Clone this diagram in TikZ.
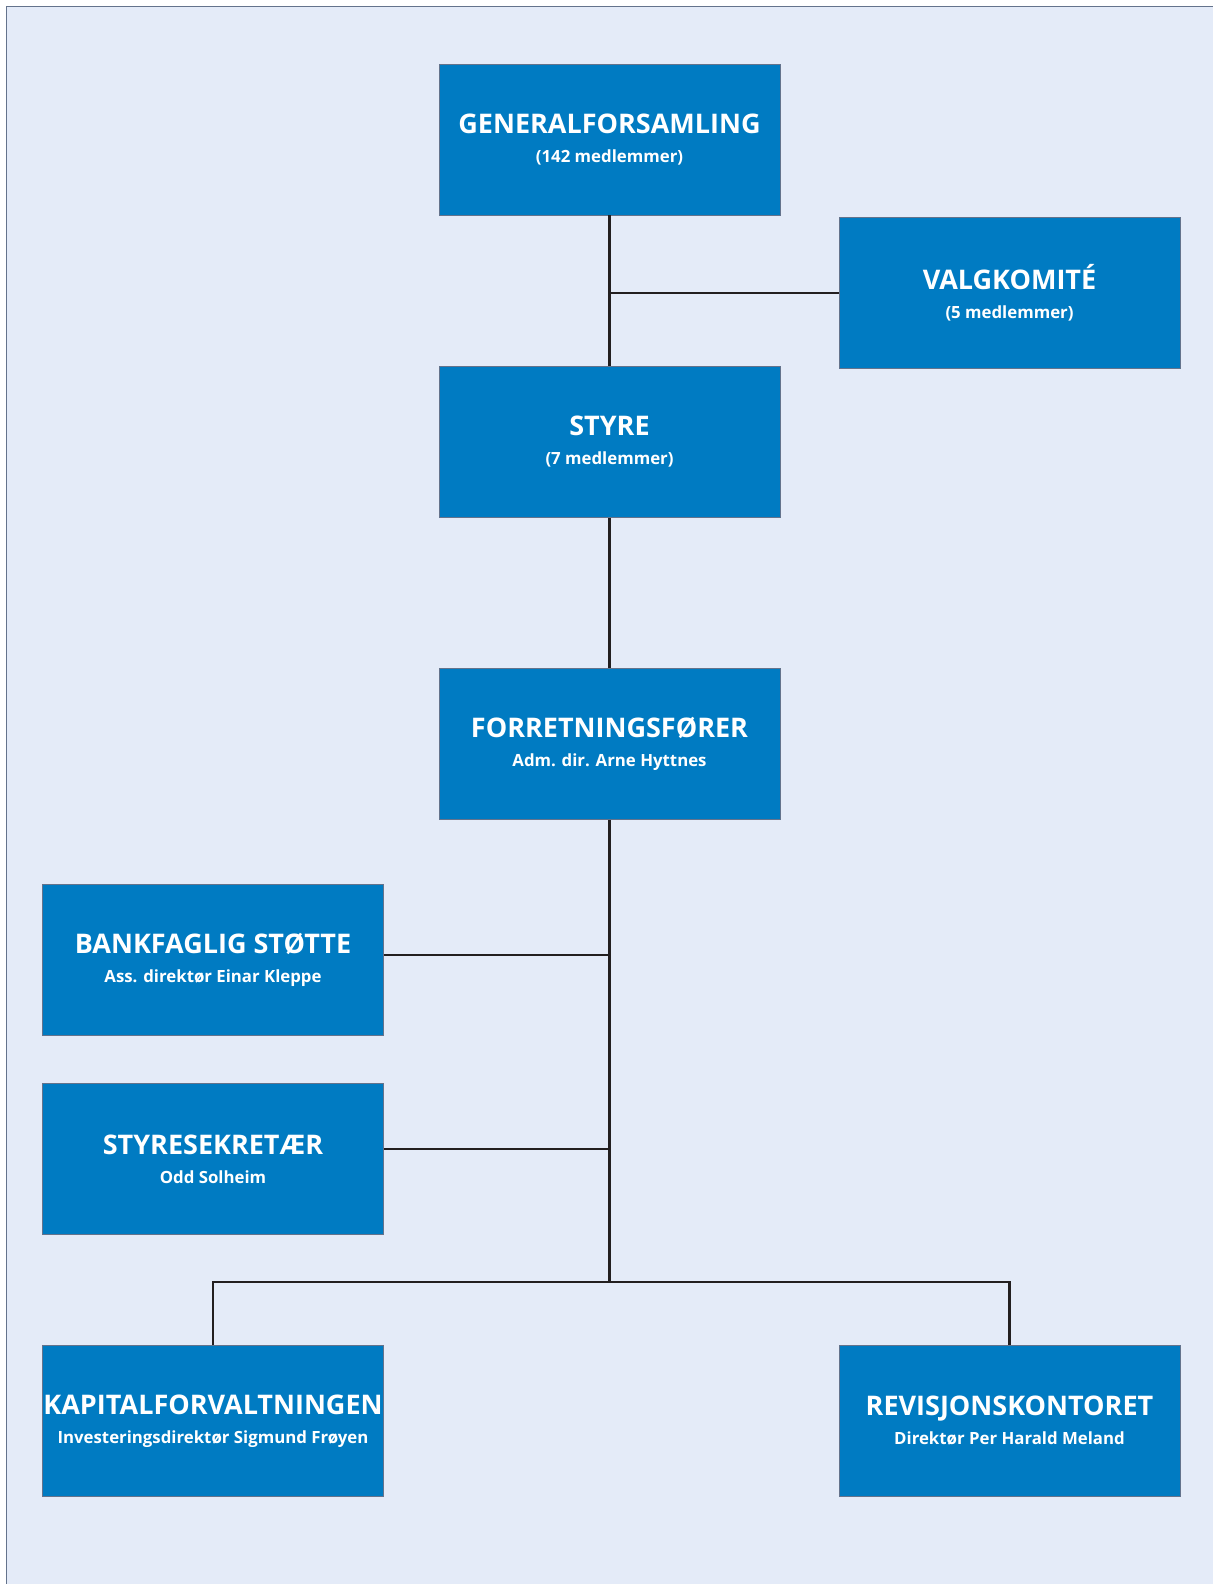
\documentclass[tikz,border=0pt]{standalone}
\usepackage{fontspec}
\setmainfont{Open Sans}
\definecolor{unitblue}{RGB}{0,123,194}
\definecolor{pagebg}{RGB}{228,235,248}
\definecolor{edgegray}{RGB}{100,115,140}
\definecolor{linkblack}{RGB}{35,31,32}
\newcommand{\unitsub}[1]{{\fontsize{16.8}{29}\selectfont #1}}

\begin{document}
\begin{tikzpicture}[x=1pt, y=-1pt,
      every node/.style={font=\bfseries\fontsize{27}{29}\selectfont},
      unit/.style={draw=edgegray, line width=0.8pt, fill=unitblue, text=white,
        minimum width=341pt, minimum height=151pt, inner sep=0pt, align=center},
      link/.style={draw=linkblack, line width=2.6pt}]
  \useasboundingbox (0,0) rectangle (1213,1584);
  % page background
  \fill[pagebg] (6,7) rectangle (1213,1584);
  \draw[edgegray, line width=1pt] (6,1584) -- (6,7) -- (1213,7);

  \node [unit] (gen) at (609.5,139.5)
        {GENERALFORSAMLING\\\unitsub{(142 medlemmer)}};
  \node [unit] (valg) at (1009.5,293)
        {VALGKOMITÉ\\\unitsub{(5 medlemmer)}};
  \node [unit] (styre) at (609.5,442)
        {STYRE\\\unitsub{(7 medlemmer)}};
  \node [unit] (forr) at (609.5,744)
        {FORRETNINGSFØRER\\\unitsub{Adm. dir. Arne Hyttnes}};
  \node [unit] (bank) at (213,960)
        {BANKFAGLIG STØTTE\\\unitsub{Ass. direktør Einar Kleppe}};
  \node [unit] (sekr) at (213,1159)
        {STYRESEKRETÆR\\\unitsub{Odd Solheim}};
  \node [unit] (kap) at (213,1421)
        {KAPITALFORVALTNINGEN\\\unitsub{Investeringsdirektør Sigmund Frøyen}};
  \node [unit] (rev) at (1009.5,1421)
        {REVISJONSKONTORET\\\unitsub{Direktør Per Harald Meland}};

  \coordinate (bus) at (609.5,1282);

  % connectors
  \draw [link] (gen.south) -- (styre.north);
  \draw [link] (valg.west) -- (valg.west -| gen.south);
  \draw [link] (styre.south) -- (forr.north);
  \draw [link] (forr.south) -- (bus);
  \draw [link] ([yshift=5pt]bank.east) -- ([yshift=5pt]bank.east -| bus);
  \draw [link] ([yshift=10pt]sekr.east) -- ([yshift=10pt]sekr.east -| bus);
  \draw [link] (kap.north) -- (kap.north |- bus) -- (rev.north |- bus) -- (rev.north);
\end{tikzpicture}
\end{document}
